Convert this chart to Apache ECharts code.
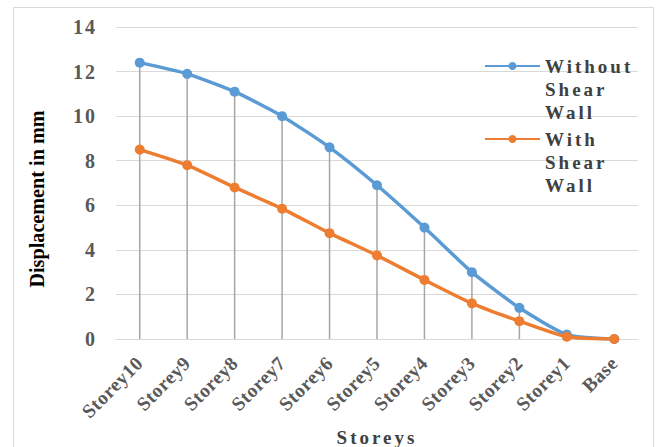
<!DOCTYPE html>
<html>
<head>
<meta charset="utf-8">
<script src="https://cdn.jsdelivr.net/npm/echarts@6/dist/echarts.min.js"></script>
<style>
html,body{margin:0;padding:0;background:#fff;}
#chart{width:671px;height:447px;}
#chart text[style*="19px"]{letter-spacing:3px;}
#chart text[style*="20px"]{letter-spacing:2px;}
#chart text[style*="19.5px"]{letter-spacing:0.5px;}
</style>
</head>
<body>
<div id="chart"></div>
<script>
var categories = ['Storey10','Storey9','Storey8','Storey7','Storey6','Storey5','Storey4','Storey3','Storey2','Storey1','Base'];
var withoutShearWall = [12.4, 11.9, 11.1, 10.0, 8.6, 6.9, 5.0, 3.0, 1.4, 0.2, 0];
var withShearWall = [8.5, 7.8, 6.8, 5.85, 4.75, 3.75, 2.65, 1.6, 0.8, 0.1, 0];
var yTicks = {min: 0, max: 14, interval: 2};
var seriesNames = ['Without Shear Wall', 'With Shear Wall'];

var dropLines = withoutShearWall.map(function (v, i) { return Math.max(v, withShearWall[i]); });

var FONT = '"Liberation Serif", "Times New Roman", serif';
var chart = echarts.init(document.getElementById('chart'), null, {renderer: 'svg'});

function legendFor(name, top) {
  return {
    data: [name],
    orient: 'vertical',
    left: 484,
    top: top,
    padding: 0,
    itemWidth: 55,
    itemHeight: 10,
    selectedMode: false,
    formatter: function (n) { return ' \n \n' + n.replace(/ /g, '\n'); },
    textStyle: {
      fontFamily: FONT, fontWeight: 'bold', fontSize: 19, lineHeight: 23,
      color: '#404040'
    }
  };
}

chart.setOption({
  animation: false,
  backgroundColor: '#ffffff',
  graphic: [{
    type: 'rect', silent: true, z: -10,
    shape: {x: 13.5, y: 7.5, width: 640, height: 460},
    style: {fill: 'none', stroke: '#d9d9d9', lineWidth: 1}
  }],
  grid: {left: 116, right: 33, top: 27, bottom: 108, containLabel: false, outerBoundsMode: 'none'},
  legend: [legendFor(seriesNames[0], 8.5), legendFor(seriesNames[1], 81.5)],
  xAxis: {
    type: 'category',
    data: categories,
    boundaryGap: true,
    name: 'Storeys',
    nameLocation: 'middle',
    nameGap: 89,
    nameTextStyle: {fontFamily: FONT, fontWeight: 'bold', fontSize: 19, color: '#404040'},
    axisLine: {lineStyle: {color: '#d9d9d9', width: 1}},
    axisTick: {show: false},
    axisLabel: {
      interval: 0, rotate: 45, margin: 21,
      fontFamily: FONT, fontWeight: 'bold', fontSize: 19.5, color: '#595959'
    },
    splitLine: {show: false}
  },
  yAxis: {
    type: 'value',
    min: yTicks.min, max: yTicks.max, interval: yTicks.interval,
    name: 'Displacement in mm',
    nameLocation: 'middle',
    nameGap: 69,
    nameTextStyle: {fontFamily: FONT, fontWeight: 'bold', fontSize: 20.2, color: '#000000', padding: [0, 32, 0, 0]},
    axisLine: {show: false},
    axisTick: {show: false},
    axisLabel: {margin: 19, fontFamily: FONT, fontWeight: 'bold', fontSize: 20, color: '#595959'},
    splitLine: {lineStyle: {color: '#d9d9d9', width: 1}}
  },
  series: [
    {
      name: 'drop', type: 'bar', data: dropLines, barWidth: 1.5,
      itemStyle: {color: '#a6a6a6'}, silent: true, z: 1
    },
    {
      name: seriesNames[0], type: 'line', data: withoutShearWall,
      smooth: 0.2, symbol: 'circle', symbolSize: 10,
      lineStyle: {color: '#5b9bd5', width: 3.5},
      itemStyle: {color: '#5b9bd5'}, z: 3
    },
    {
      name: seriesNames[1], type: 'line', data: withShearWall,
      smooth: 0.2, symbol: 'circle', symbolSize: 10,
      lineStyle: {color: '#ed7d31', width: 3.5},
      itemStyle: {color: '#ed7d31'}, z: 4
    }
  ]
});
</script>
</body>
</html>
